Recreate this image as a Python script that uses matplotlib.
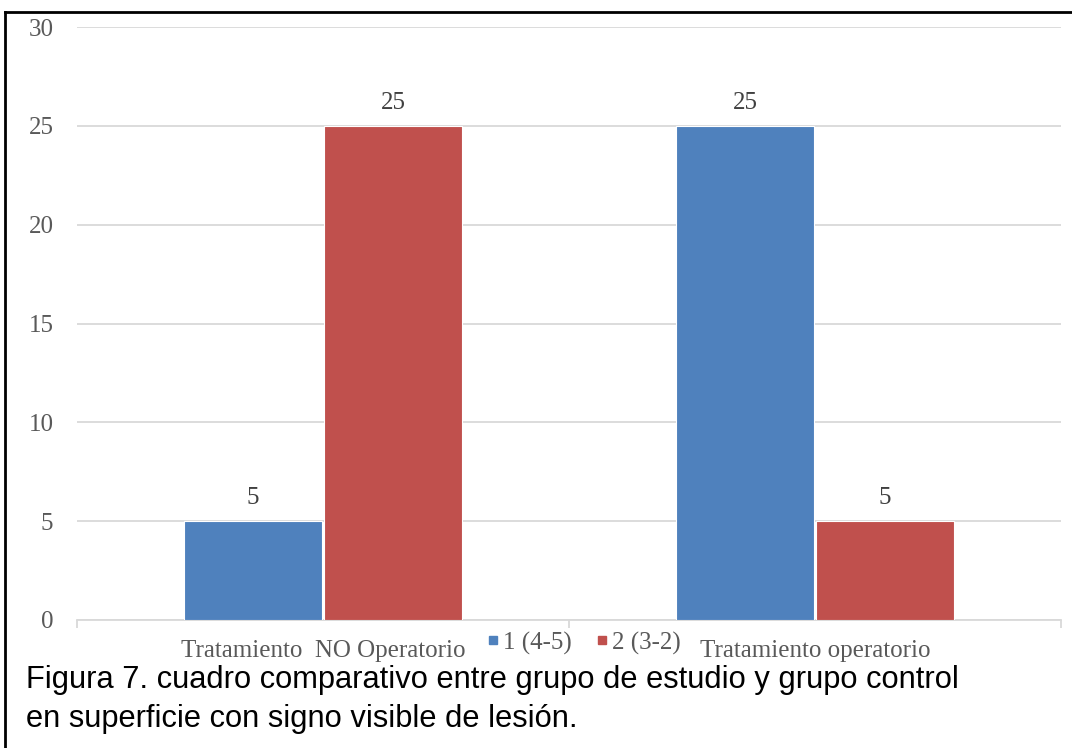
import numpy as np
import matplotlib.pyplot as plt
from matplotlib.lines import Line2D

categories = ["Tratamiento  NO Operatorio", "Tratamiento operatorio"]
series_names = ["1 (4-5)", "2 (3-2)"]
serie1 = [5, 25]
serie2 = [25, 5]
colors = ["#4F81BD", "#C0504D"]
yticks = [0, 5, 10, 15, 20, 25, 30]

W, H = 1072, 748
fig = plt.figure(figsize=(W / 100, H / 100), dpi=100)
ax = fig.add_axes([77 / W, 1 - 620 / H, (1061 - 77) / W, (620 - 27) / H])

serif = "Liberation Serif"
grey = "#595959"
x = np.arange(len(categories))
bw = 0.279
off = bw / 2 + 0.003
ax.bar(x - off, serie1, bw, color=colors[0], edgecolor="white", linewidth=0.8, zorder=3)
ax.bar(x + off, serie2, bw, color=colors[1], edgecolor="white", linewidth=0.8, zorder=3)

for xs, vals in [(x - off, serie1), (x + off, serie2)]:
    for xi, v in zip(xs, vals):
        ax.annotate(str(v), (xi, v), xytext=(0, 16.5), textcoords="offset points",
                    ha="center", va="center", fontsize=18, family=serif, color="#404040")

ax.set_xlim(-0.5, 1.5)
ax.set_ylim(0, 30)
ax.set_yticks(yticks)
ax.set_yticklabels([str(t) for t in yticks], fontsize=18, family=serif, color=grey)
ax.tick_params(axis="y", length=0, pad=17)
ax.grid(axis="y", color="#D9D9D9", linewidth=1.3, zorder=0)
for s in ["top", "right", "left"]:
    ax.spines[s].set_visible(False)
ax.spines["bottom"].set_color("#D9D9D9")
ax.spines["bottom"].set_linewidth(1.3)
ax.set_xticks([-0.5, 0.5, 1.5])
ax.set_xticklabels([])
ax.tick_params(axis="x", length=6, color="#D9D9D9", width=1.3)

# category labels
for xi, lab in zip(x, categories):
    fig.text((77 + (xi + 0.5) * 492) / W, 1 - 657 / H, lab, ha="center", va="baseline",
             fontsize=18, family=serif, color=grey)

handles = [Line2D([], [], marker="s", linestyle="", color=c, markersize=5.5) for c in colors]
fig.legend(handles, series_names, loc="center", bbox_to_anchor=(582 / W, 1 - 643 / H), ncol=2,
           frameon=False, prop={"family": serif, "size": 18}, labelcolor=grey,
           handletextpad=0.0, columnspacing=0.8, handlelength=0.8, borderpad=0)

fig.text(26 / W, 1 - 688 / H, "Figura 7. cuadro comparativo entre grupo de estudio y grupo control",
         ha="left", va="baseline", fontsize=22.2, family="Liberation Sans", color="black")
fig.text(26 / W, 1 - 727 / H, "en superficie con signo visible de lesión.",
         ha="left", va="baseline", fontsize=22.2, family="Liberation Sans", color="black")

# outer frame (left and top edges)
fig.add_artist(Line2D([5 / W, 5 / W], [0, 1 - 12 / H], transform=fig.transFigure, color="black", linewidth=2))
fig.add_artist(Line2D([5 / W, 1], [1 - 12 / H, 1 - 12 / H], transform=fig.transFigure, color="black", linewidth=2))

fig.savefig("out.png", dpi=100)
